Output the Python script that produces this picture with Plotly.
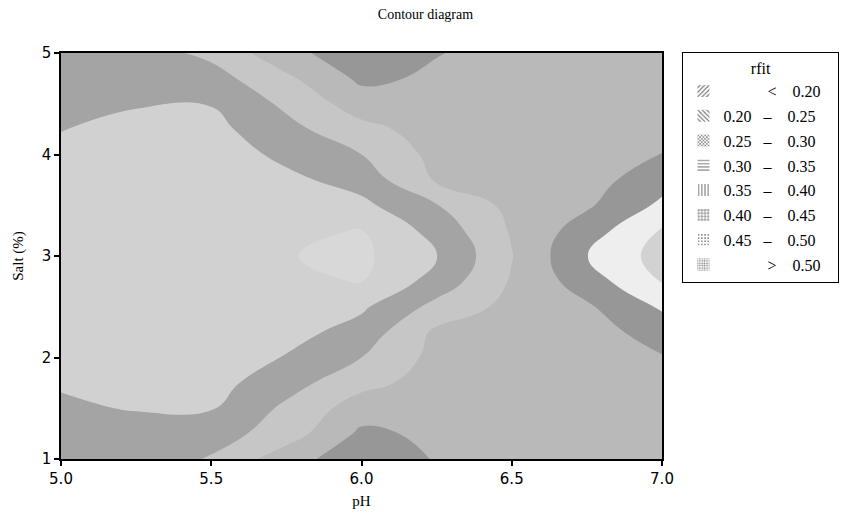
import plotly.graph_objects as go

# ---- data ----
ph = [5.0, 5.25, 5.5, 5.75, 6.0, 6.25, 6.5, 6.75, 7.0]
salt = [1.0, 1.25, 1.5, 1.75, 2.0, 2.25, 2.5, 2.75, 3.0,
        3.25, 3.5, 3.75, 4.0, 4.25, 4.5, 4.75, 5.0]

# rfit values along salt (1.0 -> 5.0) for each pH column
rfit_ph500 = [0.285, 0.270, 0.255, 0.247, 0.238, 0.228, 0.220, 0.216, 0.215, 0.216, 0.222, 0.232, 0.242, 0.251, 0.264, 0.276, 0.287]
rfit_ph525 = [0.280, 0.265, 0.248, 0.235, 0.225, 0.218, 0.213, 0.210, 0.209, 0.210, 0.213, 0.218, 0.226, 0.238, 0.253, 0.265, 0.278]
rfit_ph550 = [0.303, 0.277, 0.247, 0.232, 0.222, 0.215, 0.210, 0.207, 0.206, 0.207, 0.210, 0.215, 0.222, 0.235, 0.252, 0.280, 0.312]
rfit_ph575 = [0.380, 0.325, 0.310, 0.280, 0.253, 0.232, 0.215, 0.205, 0.202, 0.205, 0.215, 0.238, 0.262, 0.285, 0.310, 0.340, 0.385]
rfit_ph600 = [0.430, 0.410, 0.375, 0.335, 0.300, 0.270, 0.242, 0.199, 0.190, 0.199, 0.238, 0.270, 0.300, 0.335, 0.375, 0.410, 0.430]
rfit_ph625 = [0.397, 0.390, 0.380, 0.370, 0.365, 0.360, 0.315, 0.270, 0.247, 0.268, 0.298, 0.356, 0.365, 0.372, 0.382, 0.392, 0.402]
rfit_ph650 = [0.383, 0.383, 0.382, 0.381, 0.380, 0.375, 0.365, 0.355, 0.348, 0.355, 0.365, 0.375, 0.380, 0.382, 0.383, 0.384, 0.385]
rfit_ph675 = [0.370, 0.370, 0.370, 0.372, 0.375, 0.380, 0.393, 0.425, 0.449, 0.425, 0.393, 0.380, 0.375, 0.372, 0.370, 0.370, 0.370]
rfit_ph700 = [0.360, 0.365, 0.372, 0.385, 0.397, 0.420, 0.457, 0.503, 0.520, 0.505, 0.460, 0.430, 0.401, 0.385, 0.375, 0.368, 0.362]

columns = [rfit_ph500, rfit_ph525, rfit_ph550, rfit_ph575, rfit_ph600,
           rfit_ph625, rfit_ph650, rfit_ph675, rfit_ph700]
z = [list(row) for row in zip(*columns)]  # rows follow salt

levels_start, levels_end, levels_size = 0.20, 0.50, 0.05

band_labels = ["<  0.20", "0.20 – 0.25", "0.25 – 0.30", "0.30 – 0.35",
               "0.35 – 0.40", "0.40 – 0.45", "0.45 – 0.50", ">  0.50"]
band_greys = ["#d8d8d8", "#d1d1d1", "#a4a4a4", "#c6c6c6",
              "#b9b9b9", "#979797", "#eeeeee", "#d2d2d2"]
band_patterns = [("/", 4, 0.35), ("\\", 4, 0.35), ("x", 3, 0.45), ("-", 4, 0.3),
                 ("|", 4, 0.3), ("+", 4, 0.35), (".", 4, 0.2), (".", 3, 0.35)]

serif = "Liberation Serif"
sans = "DejaVu Sans"

fig = go.Figure()

n = len(band_greys)
colorscale = [[k / (n - 1), c] for k, c in enumerate(band_greys)]
fig.add_trace(go.Contour(
    x=ph, y=salt, z=z,
    contours=dict(start=levels_start, end=levels_end, size=levels_size,
                  coloring="fill", showlines=False),
    colorscale=colorscale, showscale=False, line=dict(width=0, smoothing=1.3),
    hoverinfo="skip", showlegend=False,
))

NB = "\u00a0"
def legend_text(lbl):
    if lbl.startswith("<") or lbl.startswith(">"):
        sym, val = lbl[0], lbl.split()[-1]
        return NB * 11 + sym + NB * 4 + val + NB * 3
    a, _, b = lbl.split()
    return a + NB * 3 + "–" + NB * 4 + b + NB * 3

for i, lbl in enumerate(band_labels):
    shp, sz, sol = band_patterns[i]
    fig.add_trace(go.Bar(
        x=[None], y=[None], name=legend_text(lbl),
        legendgroup=f"g{i}",
        marker=dict(color="white", line=dict(width=0),
                    pattern=dict(shape=shp, size=sz, solidity=sol,
                                 fgcolor="#707070", bgcolor="white",
                                 fillmode="replace")),
        showlegend=True,
    ))

axis_common = dict(showgrid=False, zeroline=False, showline=True, linecolor="black",
                   linewidth=1.5, mirror=True, ticks="outside", ticklen=5,
                   tickwidth=1.5, tickcolor="black", automargin=False,
                   tickfont=dict(family=sans, size=15, color="black"))

fig.update_layout(
    width=851, height=514,
    margin=dict(l=61, r=178, t=53, b=55),
    paper_bgcolor="white", plot_bgcolor="white",
    title=dict(text="Contour diagram", x=0.5, xref="container", y=0.973,
               yref="container", yanchor="middle", xanchor="center",
               font=dict(family=serif, size=14, color="black")),
    xaxis=dict(range=[5.0, 7.0], tickvals=[5.0, 5.5, 6.0, 6.5, 7.0],
               tickformat=".1f",
               title=dict(text="pH", font=dict(family=serif, size=15, color="black"),
                          standoff=9),
               **axis_common),
    yaxis=dict(range=[1, 5], tickvals=[1, 2, 3, 4, 5],
               title=dict(text="Salt (%)", font=dict(family=serif, size=15, color="black"),
                          standoff=14),
               **axis_common),
    legend=dict(x=1.034, y=1.002, xanchor="left", yanchor="top",
                bordercolor="black", borderwidth=1, bgcolor="white",
                font=dict(family=serif, size=16, color="black"),
                title=dict(text="rfit", side="top center",
                           font=dict(family=serif, size=16, color="black")),
                traceorder="grouped", tracegroupgap=1),
    showlegend=True,
)

fig.write_html("out.html", config={"displayModeBar": False},
               post_script="document.body.style.margin='0';document.body.style.padding='0';")
